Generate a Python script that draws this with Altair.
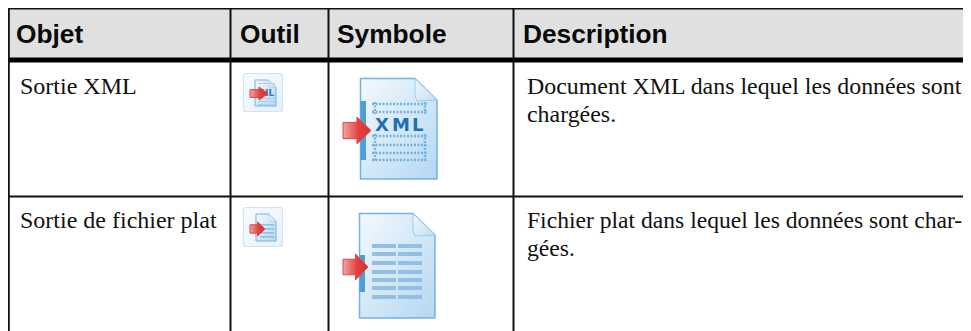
import altair as alt
import pandas as pd

# ---- table content ----
headers = ["Objet", "Outil", "Symbole", "Description"]
row_names = ["Sortie XML", "Sortie de fichier plat"]
row_desc = [
    ["Document XML dans lequel les données sont", "chargées."],
    ["Fichier plat dans lequel les données sont char-", "gées."],
]

# ---- table geometry, in table units ----
W, H = 963, 331
col_lines = [8.8, 230.5, 328.5, 513.5]
col_text = [16, 240, 337, 523]
body_text = [20, 527]
head_base = 43
row_base = [94, 228]
line_gap = 28
desc_size = [23.9, 23.6]

X = alt.X("x:Q", scale=alt.Scale(domain=[8, W], nice=False, zero=False), axis=None)
Y = alt.Y("y:Q", scale=alt.Scale(domain=[H, 8], nice=False, zero=False), axis=None)


def rects(rows, **kw):
    df = pd.DataFrame(rows, columns=["x", "x2", "y", "y2"])
    return alt.Chart(df).mark_rect(**kw).encode(x=X, x2="x2:Q", y=Y, y2="y2:Q")


def texts(rows, **kw):
    df = pd.DataFrame(rows, columns=["x", "y", "t"])
    return alt.Chart(df).mark_text(align="left", baseline="alphabetic", **kw).encode(x=X, y=Y, text="t:N")


def grad(stops, x2=1, y2=1):
    return alt.Gradient(
        gradient="linear", x1=0, y1=0, x2=x2, y2=y2,
        stops=[alt.GradientStop(offset=o, color=c) for o, c in stops],
    )


def shape(points, x0, x1, y0, y1, **kw):
    cx, cy = (x0 + x1) / 2, (y0 + y1) / 2
    half = max(x1 - x0, y1 - y0) / 2
    path = "M" + " L".join(f"{(a - cx) / half:.3f},{(b - cy) / half:.3f}" for a, b in points) + " Z"
    df = pd.DataFrame({"x": [cx], "y": [cy]})
    return (
        alt.Chart(df)
        .mark_point(shape=path, size=(2 * half) ** 2, filled=True, opacity=1, **kw)
        .encode(x=X, y=Y)
    )


def document(x0, x1, y0, y1, fx, fy, sw=1.5):
    body = [(x0, y0), (fx, y0), (x1, fy), (x1, y1), (x0, y1)]
    fold = [(fx, y0), (x1, fy), (fx + 2, fy + 1), (fx, fy - 4)]
    return [
        shape(body, x0, x1, y0, y1,
              fill=grad([(0, "#f3f9fd"), (0.45, "#d7eaf8"), (1, "#b5d7f1")]),
              stroke="#71b4e2", strokeWidth=sw),
        shape(fold, fx, x1, y0, fy + 1,
              fill=grad([(0, "#f2f8fd"), (1, "#c2def3")]),
              stroke="#9accec", strokeWidth=max(sw - 0.5, 0.6)),
    ]


def arrow(x0, x1, y0, y1, neck=0.5, tail=0.3):
    m = (y0 + y1) / 2
    t = (y1 - y0) * tail
    n = x0 + (x1 - x0) * neck
    pts = [(x0, m - t), (n, m - t), (n, y0), (x1, m), (n, y1), (n, m + t), (x0, m + t)]
    return shape(pts, x0, x1, y0, y1,
                 fill=grad([(0, "#f0a6a4"), (0.55, "#e4403f"), (1, "#d92f30")], x2=1, y2=0),
                 stroke="#d9484a", strokeWidth=1)


layers = []

layers.append(rects([(8, W, 8, 58)], fill="#e0e0e0"))
layers.append(rects([(8, W, 8, 9.4)], fill="#111111"))
layers.append(rects([(8, W, 57.5, 62.5)], fill="#000000"))
layers.append(rects([(8, W, 195.5, 197.5)], fill="#111111"))
layers.append(rects([(c - 1, c + 1, 8, H) for c in col_lines], fill="#111111"))

head_font = dict(font="Liberation Sans", fontWeight="bold", fontSize=26.3, color="#0a0a0a")
layers.append(texts([(x, head_base, t) for x, t in zip(col_text, headers)], **head_font))
serif = dict(font="Liberation Serif", color="#111111")
for i, name in enumerate(row_names):
    layers.append(texts([(body_text[0], row_base[i], name)], fontSize=24.0, **serif))
    for j, line in enumerate(row_desc[i]):
        layers.append(texts([(body_text[1], row_base[i] + j * line_gap, line)],
                            fontSize=desc_size[i], **serif))

for y0, y1 in [(73.5, 111.5), (207.5, 246.5)]:
    layers.append(rects([(243.5, 282.5, y0, y1)], cornerRadius=2,
                        fill=grad([(0, "#f8fbfe"), (1, "#e6f1fb")]), stroke="#cfe4f6", strokeWidth=1.2))

layers += document(255, 276, 80, 106, 268, 87, sw=1)
layers.append(rects([(258, 275, y, y + 1) for y in (83, 98, 101, 104)], fill="#a9d0ee"))
layers.append(texts([(261, 96, "HL")], font="DejaVu Sans", fontWeight="bold", fontSize=9, color="#2b79bd"))
layers.append(arrow(250, 268, 87, 100))

layers += document(256, 276, 214, 241, 269, 221, sw=1)
layers.append(rects([(260, 274, y, y + 1.6) for y in (224, 228, 232, 236)], fill="#8fc0e6"))
layers.append(arrow(250, 265, 222, 236))

layers += document(360.5, 437, 78.5, 179, 415, 100)
layers.append(rects([(360.5, 366, 101, 160)], fill="#4f9fd6"))
dot = dict(strokeDash=[2, 1.5], strokeWidth=2.4, color="#6fb2e4")
hl = pd.DataFrame({"y": [104, 112, 136, 145, 153, 160], "x": 372, "x2": 427})
layers.append(alt.Chart(hl).mark_rule(**dot).encode(x=X, x2="x2:Q", y=Y))
vl = pd.DataFrame({"x": [375, 425, 375, 425], "y": [102, 102, 134, 134], "y2": [114, 114, 162, 162]})
layers.append(alt.Chart(vl).mark_rule(**dot).encode(x=X, y=Y, y2="y2:Q"))
layers.append(texts([(375, 131, "X"), (392, 131, "M"), (412, 131, "L")],
                    font="DejaVu Sans", fontWeight="bold", fontSize=18, color="#1d6fb8"))
layers.append(arrow(343, 371, 117, 144))

layers += document(359.5, 435, 213.5, 318, 413, 235)
layers.append(rects([(359.5, 365, 255, 292)], fill="#4f9fd6"))
bars = []
for y in (246, 254, 263, 272, 280, 288, 297):
    bars += [(372, 396, y - 2, y + 2), (398, 422, y - 2, y + 2)]
layers.append(rects(bars, fill="#93bfe4"))
layers.append(arrow(343, 368, 254, 280))

chart = (
    alt.layer(*layers)
    .properties(width=W - 8, height=H - 8, padding=0, autosize=alt.AutoSizeParams(type="none"))
    .configure_view(stroke=None)
)
chart.save("out.html", embed_options={"renderer": "svg", "actions": False})
